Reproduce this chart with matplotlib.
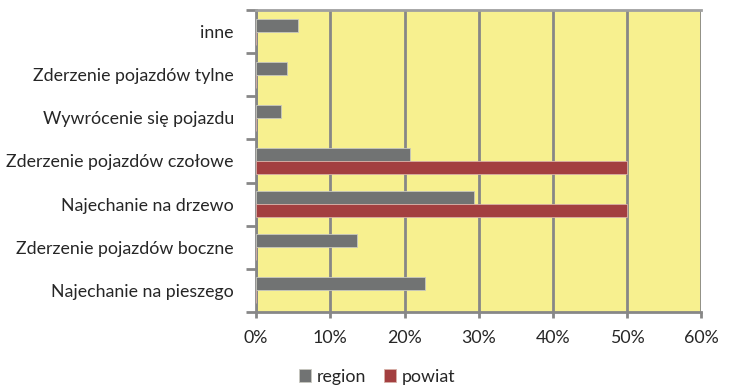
import matplotlib.pyplot as plt
import numpy as np
from matplotlib.ticker import FixedLocator, PercentFormatter

categories = [
    "Najechanie na pieszego",
    "Zderzenie pojazdów boczne",
    "Najechanie na drzewo",
    "Zderzenie pojazdów czołowe",
    "Wywrócenie się pojazdu",
    "Zderzenie pojazdów tylne",
    "inne",
]
region = [22.8, 13.6, 29.3, 20.7, 3.4, 4.2, 5.6]
powiat = [0, 0, 50, 50, 0, 0, 0]
x_ticks = [0, 10, 20, 30, 40, 50, 60]

plt.rcParams["font.family"] = ["Lato", "DejaVu Sans"]

grey = "#717373"
red = "#A33F40"
axis_grey = "#878787"
text_col = "#262626"

fig = plt.figure(figsize=(7.36, 3.87), dpi=100)
ax = fig.add_axes([0.348, 0.194, 0.605, 0.78])
ax.set_facecolor("#F7F08F")

y = np.arange(len(categories))
h = 0.3
ax.barh(y + h / 2, region, height=h, color=grey, edgecolor="#c8c8c0", linewidth=0.6,
        label="region", zorder=3)
ax.barh(y - h / 2, powiat, height=h, color=red, edgecolor="#d8b0a8", linewidth=0.6,
        label="powiat", zorder=3)

ax.set_xlim(0, 60)
ax.set_ylim(-0.5, len(categories) - 0.5)
ax.set_xticks(x_ticks)
ax.xaxis.set_major_formatter(PercentFormatter(decimals=0))
ax.grid(axis="x", color=axis_grey, linewidth=2, zorder=1)

ax.set_yticks(y)
ax.set_yticklabels(categories)
ax.yaxis.set_minor_locator(FixedLocator(np.arange(-0.5, len(categories), 1)))
ax.tick_params(axis="y", which="major", length=0, pad=16, labelsize=12.8, labelcolor=text_col)
ax.tick_params(axis="y", which="minor", length=7, width=2, color=axis_grey)
ax.tick_params(axis="x", length=4, width=2, color=axis_grey, pad=9, labelsize=12.8,
               labelcolor=text_col)

for side in ["left", "bottom"]:
    ax.spines[side].set_color(axis_grey)
    ax.spines[side].set_linewidth(2)
ax.spines["top"].set_color("#a0a0a0")
ax.spines["top"].set_linewidth(2)
ax.spines["right"].set_visible(False)

handles, labels = ax.get_legend_handles_labels()
fig.legend(handles, labels, loc="lower center", bbox_to_anchor=(0.512, -0.035), ncol=2,
           frameon=False, fontsize=12.8, handlelength=0.7, handleheight=0.7,
           handletextpad=0.3, columnspacing=1.0, labelcolor=text_col)

plt.savefig("out.png", dpi=100)
